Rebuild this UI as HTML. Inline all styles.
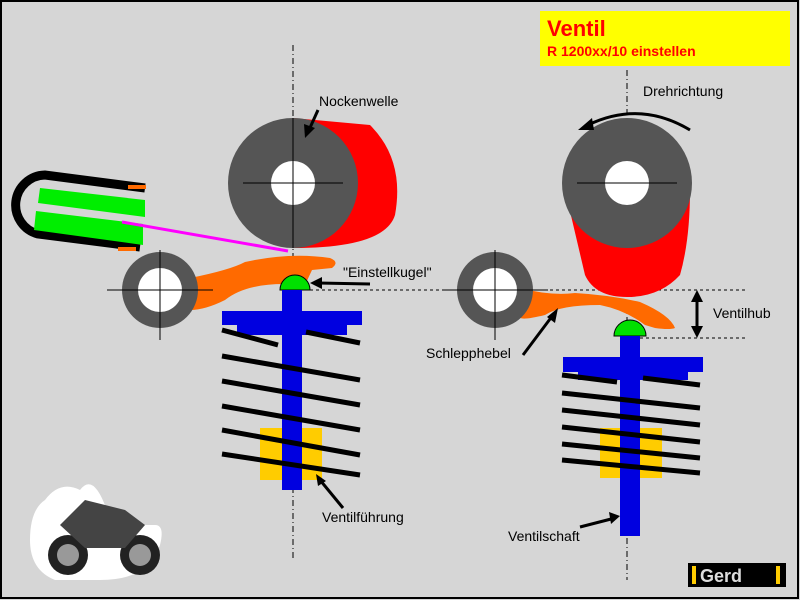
<!DOCTYPE html>
<html><head><style>
html,body{margin:0;padding:0;}
body{width:800px;height:600px;overflow:hidden;background:#d6d6d6;}
svg{display:block;font-family:"Liberation Sans",sans-serif;}
</style></head><body>
<svg width="800" height="600" viewBox="0 0 800 600">
<rect x="0" y="0" width="800" height="600" fill="#d6d6d6"/>
<rect x="1" y="1" width="797" height="597" fill="none" stroke="#000" stroke-width="2"/>
<!-- title -->
<rect x="540" y="11" width="250" height="55" fill="#ffff00"/>
<text x="547" y="36" font-size="22" font-weight="bold" fill="#ff0000">Ventil</text>
<text x="547" y="56" font-size="14" font-weight="bold" fill="#ff0000">R 1200xx/10 einstellen</text>
<!-- center lines -->
<g stroke="#000" stroke-width="1" stroke-dasharray="6,3,1,3">
<line x1="293" y1="45" x2="293" y2="560"/>
<line x1="627" y1="70" x2="627" y2="580"/>
</g>
<g stroke="#000" stroke-width="1" stroke-dasharray="3,3">
<line x1="310" y1="290" x2="700" y2="290"/>
<line x1="640" y1="338" x2="745" y2="338"/>
<line x1="640" y1="290" x2="745" y2="290"/>
</g>
<!-- LEFT -->
<path d="M293,118 L370,125 Q405,160 395,215 Q385,248 293,248 Z" fill="#ff0000"/>
<circle cx="293" cy="183" r="65" fill="#555"/>
<circle cx="293" cy="183" r="22" fill="#fff"/>
<path d="M190,278 Q230,270 245,262 Q290,252 330,258 Q340,262 332,268 L312,270 L305,285 Q250,280 225,300 Q205,310 190,310 Z" fill="#ff6a00"/>
<circle cx="160" cy="290" r="38" fill="#555"/>
<circle cx="160" cy="290" r="22" fill="#fff"/>
<g stroke="#000" stroke-width="1">
<line x1="243" y1="183" x2="343" y2="183"/><line x1="293" y1="118" x2="293" y2="248"/>
<line x1="107" y1="290" x2="213" y2="290"/><line x1="160" y1="250" x2="160" y2="340"/>
<line x1="577" y1="183" x2="677" y2="183"/>
<line x1="442" y1="290" x2="548" y2="290"/><line x1="495" y1="250" x2="495" y2="340"/>
</g>
<path d="M280,290 A15,15 0 0 1 310,290 Z" fill="#00e000" stroke="#000"/>
<rect x="282" y="290" width="20" height="200" fill="#0000e0"/>
<rect x="222" y="311" width="140" height="14" fill="#0000e0"/>
<rect x="237" y="325" width="110" height="10" fill="#0000e0"/>
<rect x="260" y="428" width="62" height="52" fill="#ffcc00"/>
<rect x="282" y="428" width="20" height="62" fill="#0000e0"/>
<g stroke="#000" stroke-width="5">
<line x1="222" y1="330" x2="278" y2="345"/><line x1="306" y1="332" x2="360" y2="343"/>
<line x1="222" y1="356" x2="360" y2="380"/>
<line x1="222" y1="381" x2="360" y2="405"/>
<line x1="222" y1="406" x2="360" y2="430"/>
<line x1="222" y1="430" x2="360" y2="455"/>
<line x1="222" y1="454" x2="360" y2="475"/>
</g>
<!-- tool -->
<path d="M145,188 L45,175 A30,30 0 0 0 38,234 L140,247" fill="none" stroke="#000" stroke-width="9"/>
<polygon points="40,188 145,200 145,217 38,203" fill="#00ee00"/>
<polygon points="36,211 143,224 143,245 34,230" fill="#00ee00"/>
<rect x="128" y="185" width="18" height="4" fill="#ff6a00"/>
<rect x="118" y="247" width="18" height="4" fill="#ff6a00"/>
<line x1="122" y1="222" x2="288" y2="251" stroke="#ff00ff" stroke-width="3"/>
<!-- RIGHT -->
<path d="M565,190 L690,190 Q690,240 680,275 Q660,297 627,297 Q595,297 585,275 Z" fill="#ff0000"/>
<circle cx="627" cy="183" r="65" fill="#555"/>
<circle cx="627" cy="183" r="22" fill="#fff"/>
<line x1="577" y1="183" x2="677" y2="183" stroke="#000"/>
<path d="M520,288 Q550,296 575,293 Q610,295 640,302 Q670,315 675,328 Q670,330 655,328 L645,325 Q625,310 600,305 Q560,305 545,315 Q525,320 520,318 Z" fill="#ff6a00"/>
<circle cx="495" cy="290" r="38" fill="#555"/>
<circle cx="495" cy="290" r="22" fill="#fff"/>
<g stroke="#000" stroke-width="1">
<line x1="442" y1="290" x2="548" y2="290"/><line x1="495" y1="250" x2="495" y2="340"/>
</g>
<path d="M614,336 A16,16 0 0 1 646,336 Z" fill="#00e000" stroke="#000"/>
<rect x="620" y="336" width="20" height="200" fill="#0000e0"/>
<rect x="563" y="357" width="140" height="15" fill="#0000e0"/>
<rect x="578" y="372" width="110" height="8" fill="#0000e0"/>
<rect x="600" y="428" width="62" height="50" fill="#ffcc00"/>
<rect x="620" y="428" width="20" height="108" fill="#0000e0"/>
<g stroke="#000" stroke-width="5">
<line x1="562" y1="375" x2="617" y2="382"/><line x1="643" y1="378" x2="700" y2="385"/>
<line x1="562" y1="393" x2="700" y2="408"/>
<line x1="562" y1="410" x2="700" y2="425"/>
<line x1="562" y1="427" x2="700" y2="442"/>
<line x1="562" y1="444" x2="700" y2="458"/>
<line x1="562" y1="460" x2="700" y2="473"/>
</g>
<!-- labels & arrows -->
<g font-size="14" fill="#000">
<text x="319" y="106">Nockenwelle</text>
<text x="343" y="277">"Einstellkugel"</text>
<text x="643" y="96">Drehrichtung</text>
<text x="713" y="318">Ventilhub</text>
<text x="426" y="358">Schlepphebel</text>
<text x="322" y="522">Ventilführung</text>
<text x="508" y="541">Ventilschaft</text>
</g>
<g stroke="#000" stroke-width="3" fill="none">
<line x1="318" y1="110" x2="309" y2="130"/>
<line x1="370" y1="284" x2="318" y2="283"/>
<line x1="523" y1="355" x2="553" y2="315"/>
<line x1="343" y1="508" x2="320" y2="480"/>
<line x1="580" y1="527" x2="615" y2="518"/>
<line x1="697" y1="298" x2="697" y2="330"/>
<path d="M588,125 Q640,100 690,130"/>
</g>
<g fill="#000">
<polygon points="305,138 304,124 315,128"/>
<polygon points="310,283 322,277 322,289"/>
<polygon points="558,308 555,323 547,317"/>
<polygon points="316,474 326,481 318,486"/>
<polygon points="620,516 609,512 611,524"/>
<polygon points="697,290 691,302 703,302"/>
<polygon points="697,338 691,326 703,326"/>
<polygon points="578,130 592,118 594,130"/>
</g>
<!-- moto -->
<path d="M45,500 Q60,480 80,490 Q95,470 110,520 Q105,520 110,525 L155,525 Q165,525 160,545 Q150,580 100,580 L55,580 Q30,570 30,540 Q30,510 45,500 Z" fill="#fff"/>
<circle cx="68" cy="555" r="20" fill="#222"/><circle cx="68" cy="555" r="11" fill="#999"/>
<circle cx="140" cy="555" r="20" fill="#222"/><circle cx="140" cy="555" r="11" fill="#999"/>
<path d="M60,525 L85,500 L125,510 L145,525 L125,548 L85,548 Z" fill="#444"/>
<!-- logo -->
<rect x="688" y="563" width="98" height="24" fill="#000"/>
<text x="700" y="582" font-size="18" font-weight="bold" fill="#ddd">Gerd</text>
<rect x="692" y="566" width="4" height="18" fill="#ffcc00"/>
<rect x="776" y="566" width="4" height="18" fill="#ffcc00"/>
</svg>
</body></html>
